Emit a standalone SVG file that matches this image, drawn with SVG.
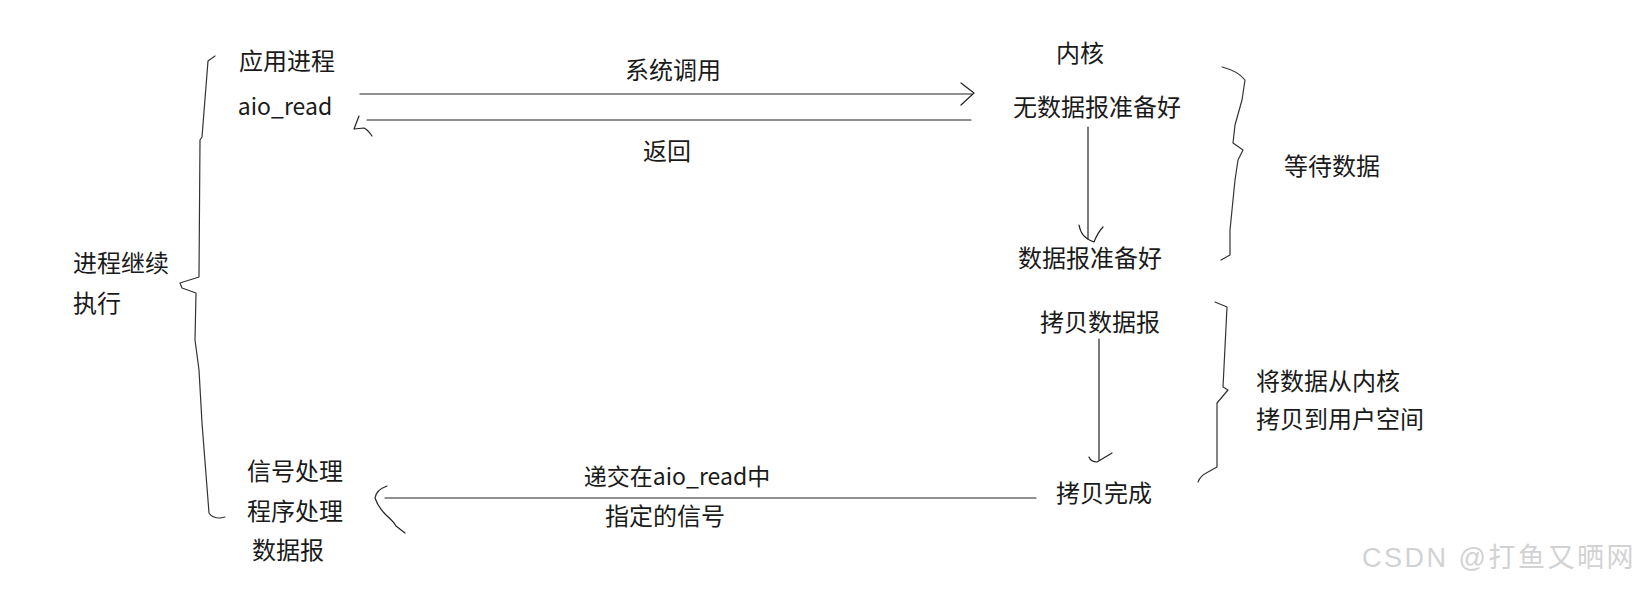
<svg xmlns="http://www.w3.org/2000/svg" width="1641" height="590" viewBox="0 0 1641 590">
<style>
text{font-family:"Noto Sans CJK SC","Microsoft YaHei",sans-serif;font-size:24px;fill:#1a1a1a}
.lat{font-size:23px}
.c{text-anchor:middle}
.ln{fill:none;stroke:#222;stroke-width:1.2;stroke-linecap:round;stroke-linejoin:round}
.br{fill:none;stroke:#333;stroke-width:1.2;stroke-linecap:round;stroke-linejoin:round}
.wm{font-family:"Liberation Sans","Noto Sans CJK SC",sans-serif;font-size:27px;fill:#d2d2d2;letter-spacing:2.5px}
</style>
<rect width="1641" height="590" fill="#fff"/>
<g id="app">
<text class="c" x="287" y="70">应用进程</text>
<text class="c lat" x="285" y="115">aio_read</text>
</g>
<g id="kernel">
<text class="c" x="1080" y="62">内核</text>
<text class="c" x="1097" y="116">无数据报准备好</text>
</g>
<g id="ready"><text class="c" x="1090" y="267">数据报准备好</text></g>
<g id="copy"><text class="c" x="1100" y="331">拷贝数据报</text></g>
<g id="done"><text class="c" x="1104" y="502">拷贝完成</text></g>
<g id="handler">
<text class="c" x="295" y="480">信号处理</text>
<text class="c" x="295" y="520">程序处理</text>
<text class="c" x="288" y="559">数据报</text>
</g>
<g id="continue">
<text x="73" y="272">进程继续</text>
<text x="73" y="312">执行</text>
</g>
<g id="wait"><text class="c" x="1332" y="175">等待数据</text></g>
<g id="copyspan">
<text x="1256" y="390">将数据从内核</text>
<text x="1256" y="428">拷贝到用户空间</text>
</g>
<g id="braces">
<path class="br" d="M215,56 L208,61 L202,137 L200,140 L199,277 L180,283 L182,288 L196,293 L195,340 L199,370 L202,423 L209,513 Q212,518 220,518 L225,517"/>
<path class="br" d="M1222,67 Q1238,71 1245,80 L1242,100 L1235,125 L1233,143 L1243,150 L1238,160 L1235,180 L1230,230 L1230,255 L1221,260"/>
<path class="br" d="M1215,302 L1227,307 L1225,347 L1223,387 L1228,390 L1217,403 L1217,467 L1208,472 Q1200,476 1198,482"/>
</g>
<g id="connectors">
<line class="ln" x1="360" y1="94" x2="972" y2="94"/>
<polyline class="ln" points="961,83 974,93 961,105"/>
<text class="c" x="673" y="79">系统调用</text>
<line class="ln" x1="367" y1="120" x2="971" y2="120"/>
<path class="ln" d="M359,116 L354,129 L364,128 Q368,130 372,136"/>
<text class="c" x="667" y="160">返回</text>
<line class="ln" x1="1088" y1="127" x2="1088" y2="239"/>
<path class="ln" d="M1079,225 Q1081,238 1094,242 Q1098,232 1103,227"/>
<line class="ln" x1="1099" y1="339" x2="1099" y2="460"/>
<path class="ln" d="M1089,457 Q1091,462 1097,462 L1112,453"/>
<line class="ln" x1="385" y1="498" x2="1036" y2="498"/>
<path class="ln" d="M387,486 Q376,490 375,498 Q378,507 386,515 Q394,522 396,526 L405,533"/>
<text class="c lat" x="677" y="485">递交在aio_read中</text>
<text class="c" x="665" y="525">指定的信号</text>
</g>
<text class="wm" x="1362" y="567">CSDN @打鱼又晒网</text>
</svg>
